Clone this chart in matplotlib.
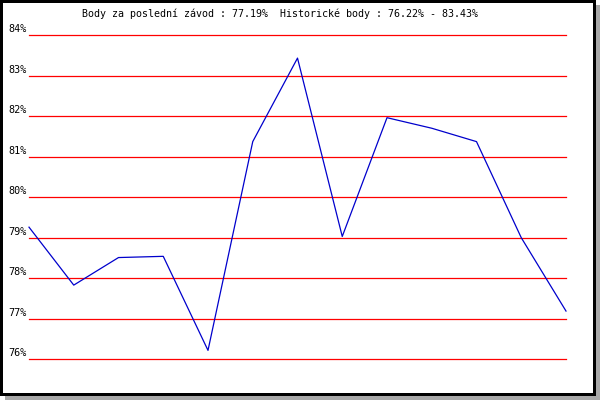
import matplotlib.pyplot as plt
from matplotlib.patches import Rectangle
from matplotlib import transforms

# points per race (in %)
points = [79.26, 77.83, 78.51, 78.54, 76.22, 81.37, 83.43,
          79.03, 81.96, 81.70, 81.37, 79.00, 77.19]
levels = [76, 77, 78, 79, 80, 81, 82, 83, 84]
level_labels = ['%d%%' % v for v in levels]
title = 'Body za poslední závod : 77.19%  Historické body : 76.22% - 83.43%'

W, H = 600, 400
fig = plt.figure(figsize=(6, 4), dpi=100)

def px(x0, y0, w, h):
    # rectangle given in pixels from top-left corner
    return (x0 / W, 1 - (y0 + h) / H), w / W, h / H

for (xy, w, h), col in [(px(5, 5, 595, 395), '#a8a8a8'),
                        (px(0, 0, 596, 396), 'black'),
                        (px(3, 3, 590, 390), 'white')]:
    fig.add_artist(Rectangle(xy, w, h, transform=fig.transFigure,
                             facecolor=col, edgecolor='none', zorder=-5))

left, right, top, bottom = 29, 566, 35, 359.3
ax = fig.add_axes([left / W, 1 - bottom / H, (right - left) / W, (bottom - top) / H])
ax.patch.set_alpha(0)
ax.set_axis_off()
ax.set_zorder(2)
ax.set_xlim(0, len(points) - 1)
ax.set_ylim(levels[0], levels[-1])

for v in levels:
    ax.axhline(v, color='#ff0000', lw=0.9, clip_on=False)

ax.plot(range(len(points)), points, color='#0000cc', lw=0.9, clip_on=False)

trans = transforms.blended_transform_factory(ax.transAxes, ax.transData)
trans = transforms.offset_copy(trans, fig=fig, x=-2, y=6, units='dots')
for v, lab in zip(levels, level_labels):
    ax.text(0, v, lab, transform=trans, ha='right', va='center',
            family='DejaVu Sans Mono', fontsize=7.3, color='black')

fig.text(280 / W, 1 - 14 / H, title, ha='center', va='center',
         family='DejaVu Sans Mono', fontsize=7.2, color='black')

fig.savefig('out.png', dpi=100)
